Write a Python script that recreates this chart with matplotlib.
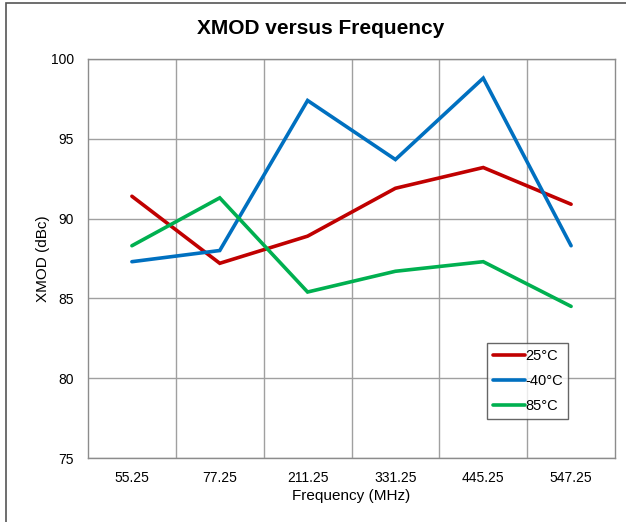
import matplotlib
matplotlib.use("Agg")
import matplotlib.pyplot as plt
from matplotlib.patches import Rectangle

categories = ["55.25", "77.25", "211.25", "331.25", "445.25", "547.25"]
t25 = [91.4, 87.2, 88.9, 91.9, 93.2, 90.9]
tm40 = [87.3, 88.0, 97.4, 93.7, 98.8, 88.3]
t85 = [88.3, 91.3, 85.4, 86.7, 87.3, 84.5]
series_labels = ["25°C", "-40°C", "85°C"]
colors = ["#C00000", "#0070C0", "#00B050"]

plt.rcParams['font.family'] = ['Liberation Sans', 'DejaVu Sans']

fig = plt.figure(figsize=(6.26, 5.22), dpi=100)
ax = fig.add_axes([88/626, 64/522, (615-88)/626, (458-59)/522])

x = list(range(len(categories)))
for vals, lab, c in zip([t25, tm40, t85], series_labels, colors):
    ax.plot(x, vals, color=c, lw=2.6, label=lab, solid_capstyle='round', solid_joinstyle='miter')

ax.set_xlim(-0.5, len(categories) - 0.5)
ax.set_ylim(75, 100)
ax.set_yticks([75, 80, 85, 90, 95, 100])
ax.set_xticks(x)
ax.set_xticklabels(categories)
ax.set_xticks([i + 0.5 for i in range(len(categories) - 1)], minor=True)
ax.grid(True, which='major', axis='y', color='#a0a0a0', lw=1.0)
ax.grid(True, which='minor', axis='x', color='#a0a0a0', lw=1.0)
ax.tick_params(axis='both', which='both', length=0, labelsize=10, pad=9)
ax.tick_params(axis='y', pad=10)
for s in ax.spines.values():
    s.set_color('#8c8c8c')
    s.set_linewidth(1.0)
ax.set_axisbelow(True)

ax.set_xlabel("Frequency (MHz)", fontsize=11, labelpad=3)
ax.set_ylabel("XMOD (dBc)", fontsize=11, labelpad=1)
fig.text(0.512, 0.945, "XMOD versus Frequency", ha='center', va='center',
         fontsize=15, fontweight='bold')

leg = ax.legend(loc='upper left', bbox_to_anchor=((487-88)/527, (459-344)/399),
                frameon=True, fancybox=False, fontsize=10.5, handlelength=2.2,
                handletextpad=0.0, borderpad=0.4, labelspacing=0.75, borderaxespad=0)
leg.get_frame().set_edgecolor('#404040')
leg.get_frame().set_linewidth(1.0)

fig.patches.append(Rectangle((6/626, -0.1), 1.2, (522-3)/522 + 0.1, transform=fig.transFigure,
                             fill=False, edgecolor='#555555', lw=1.2))

fig.savefig("out.png", dpi=100)
